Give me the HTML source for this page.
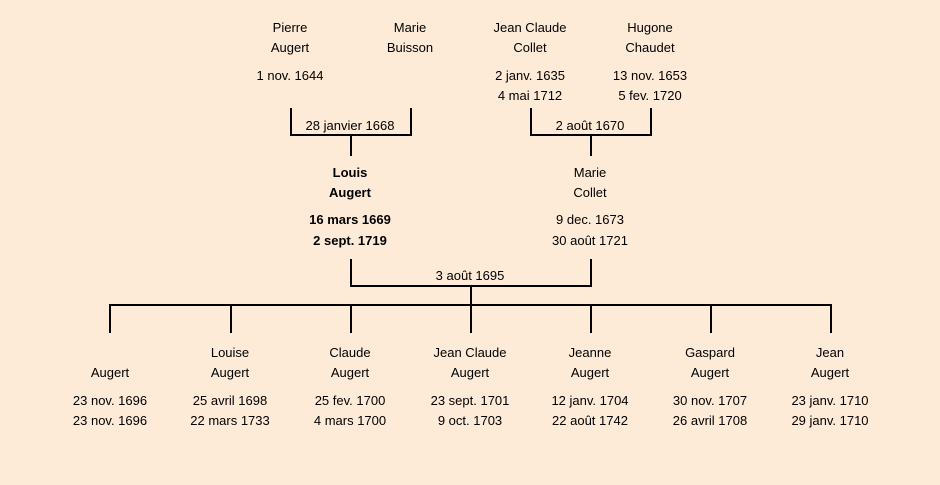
<!DOCTYPE html>
<html><head><meta charset="utf-8"><style>
html,body{margin:0;padding:0;background:#fdebd7;}
svg{display:block}
text{font-family:"Liberation Sans",sans-serif;font-size:13px;fill:#000;text-anchor:middle;}
.b{font-weight:bold}
</style></head><body>
<svg width="940" height="485" viewBox="0 0 940 485">
<rect width="940" height="485" fill="#fdebd7"/>
<g stroke="#000" stroke-width="2" fill="none">
<path d="M291 108V135H411V108M351 135V156"/>
<path d="M531 108V135H651V108M591 135V156"/>
<path d="M351 259V286H591V259M471 286V305"/>
<path d="M110 333V305H831V333M231 305V333M351 305V333M471 305V333M591 305V333M711 305V333"/>
</g>
<text x="290" y="32">Pierre</text><text x="290" y="52">Augert</text><text x="290" y="80">1 nov. 1644</text>
<text x="410" y="32">Marie</text><text x="410" y="52">Buisson</text>
<text x="530" y="32">Jean Claude</text><text x="530" y="52">Collet</text><text x="530" y="80">2 janv. 1635</text><text x="530" y="100">4 mai 1712</text>
<text x="650" y="32">Hugone</text><text x="650" y="52">Chaudet</text><text x="650" y="80">13 nov. 1653</text><text x="650" y="100">5 fev. 1720</text>
<text x="350" y="130">28 janvier 1668</text>
<text x="590" y="130">2 août 1670</text>
<text class="b" x="350" y="177">Louis</text><text class="b" x="350" y="197">Augert</text><text class="b" x="350" y="224">16 mars 1669</text><text class="b" x="350" y="245">2 sept. 1719</text>
<text x="590" y="177">Marie</text><text x="590" y="197">Collet</text><text x="590" y="224">9 dec. 1673</text><text x="590" y="245">30 août 1721</text>
<text x="470" y="280">3 août 1695</text>
<text x="110" y="377">Augert</text><text x="110" y="405">23 nov. 1696</text><text x="110" y="425">23 nov. 1696</text>
<text x="230" y="357">Louise</text><text x="230" y="377">Augert</text><text x="230" y="405">25 avril 1698</text><text x="230" y="425">22 mars 1733</text>
<text x="350" y="357">Claude</text><text x="350" y="377">Augert</text><text x="350" y="405">25 fev. 1700</text><text x="350" y="425">4 mars 1700</text>
<text x="470" y="357">Jean Claude</text><text x="470" y="377">Augert</text><text x="470" y="405">23 sept. 1701</text><text x="470" y="425">9 oct. 1703</text>
<text x="590" y="357">Jeanne</text><text x="590" y="377">Augert</text><text x="590" y="405">12 janv. 1704</text><text x="590" y="425">22 août 1742</text>
<text x="710" y="357">Gaspard</text><text x="710" y="377">Augert</text><text x="710" y="405">30 nov. 1707</text><text x="710" y="425">26 avril 1708</text>
<text x="830" y="357">Jean</text><text x="830" y="377">Augert</text><text x="830" y="405">23 janv. 1710</text><text x="830" y="425">29 janv. 1710</text>
</svg>
</body></html>
